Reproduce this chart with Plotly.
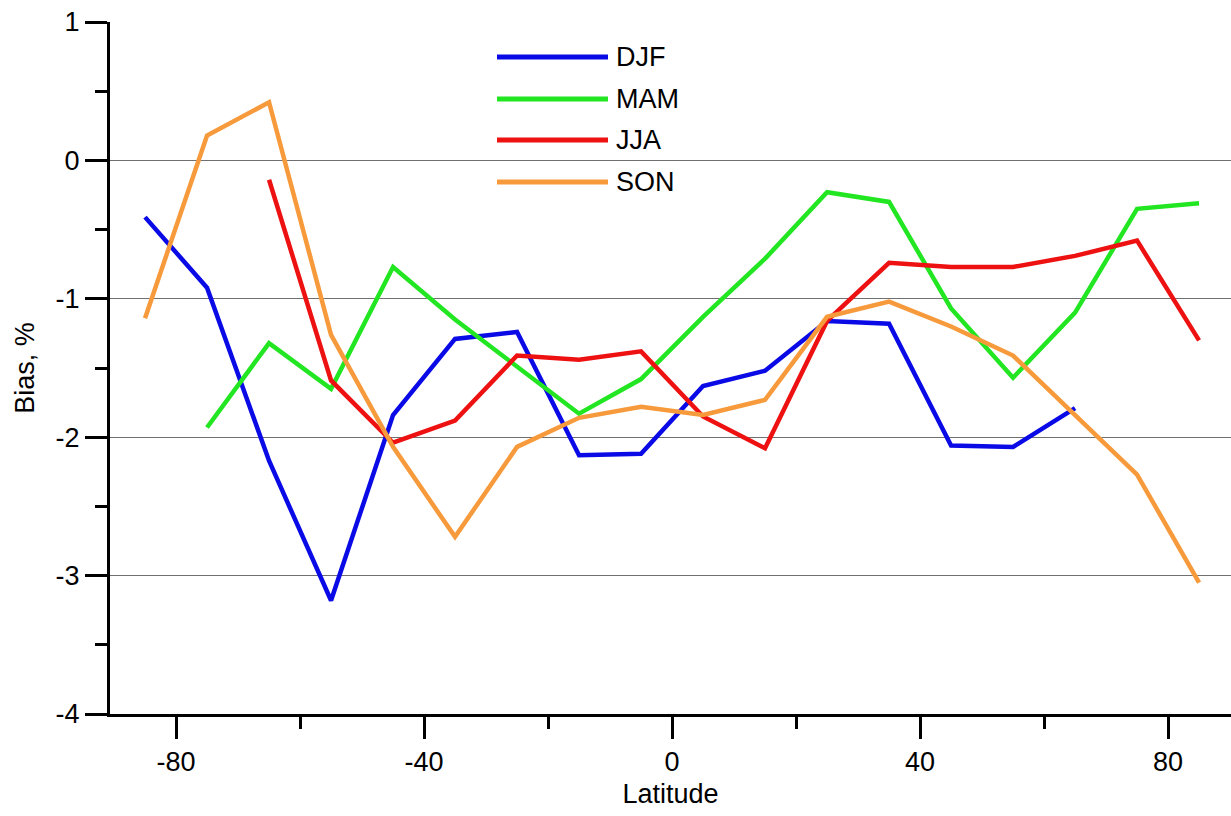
import plotly.graph_objects as go

lat = [-85, -75, -65, -55, -45, -35, -25, -15, -5, 5, 15, 25, 35, 45, 55, 65, 75, 85]

djf = [-0.41, -0.92, -2.17, -3.18, -1.84, -1.29, -1.24, -2.13, -2.12, -1.63, -1.52, -1.16, -1.18, -2.06, -2.07, -1.79, None, None]
mam = [None, -1.93, -1.32, -1.65, -0.77, -1.15, -1.49, -1.83, -1.58, -1.13, -0.71, -0.23, -0.30, -1.07, -1.57, -1.10, -0.35, -0.31]
jja = [None, None, -0.14, -1.59, -2.04, -1.88, -1.41, -1.44, -1.38, -1.85, -2.08, -1.16, -0.74, -0.77, -0.77, -0.69, -0.58, -1.30]
son = [-1.14, 0.18, 0.42, -1.26, -2.07, -2.72, -2.07, -1.86, -1.78, -1.84, -1.73, -1.13, -1.02, -1.20, -1.41, -1.84, -2.27, -3.05]

names = ["DJF", "MAM", "JJA", "SON"]
colors = ["#0a0ae6", "#22e622", "#ee1111", "#f79a3c"]
series = [djf, mam, jja, son]

x_ticks = [-80, -40, 0, 40, 80]
x_labels = ["-80", "-40", "0", "40", "80"]
y_ticks = [-4, -3, -2, -1, 0, 1]
y_labels = ["-4", "-3", "-2", "-1", "0", "1"]

FONT = "Liberation Sans, Arial, sans-serif"
FS = 27

fig = go.Figure()
for name, color, ys in zip(names, colors, series):
    fig.add_trace(go.Scatter(x=lat, y=ys, mode="lines", name=name,
                             line=dict(color=color, width=4.5), showlegend=False))

# manual legend (paper coordinates)
W, H = 1231, 816
L, R, T, B = 110, 0, 22, 102
pw, ph = W - L - R, H - T - B
leg_y = [57, 99, 140, 182]
for name, color, yy in zip(names, colors, leg_y):
    yp = 1 - (yy - T) / ph
    x0 = (497 - L) / pw
    x1 = (608 - L) / pw
    fig.add_shape(type="line", xref="paper", yref="paper", x0=x0, x1=x1, y0=yp, y1=yp,
                  line=dict(color=color, width=5))
    fig.add_annotation(xref="paper", yref="paper", x=(614 - L) / pw, y=yp, text=name,
                       showarrow=False, xanchor="left", yanchor="middle",
                       font=dict(size=FS, color="black", family=FONT))

fig.update_layout(
    width=W, height=H,
    margin=dict(l=L, r=R, t=T, b=B, autoexpand=False),
    plot_bgcolor="white", paper_bgcolor="white",
    font=dict(family=FONT, size=FS, color="black"),
    xaxis=dict(range=[-90.65, 90.15], tickvals=x_ticks, ticktext=x_labels, showgrid=False, zeroline=False,
               showline=True, linecolor="black", linewidth=3, automargin=False,
               ticks="outside", ticklen=22, tickwidth=3, tickcolor="black",
               minor=dict(tickvals=[-60, -20, 20, 60], ticks="outside", ticklen=12,
                          tickwidth=3, tickcolor="black"),
               title=dict(text="Latitude", font=dict(size=FS), standoff=8),
               tickfont=dict(size=FS)),
    yaxis=dict(range=[-4, 1], tickvals=y_ticks, ticktext=y_labels, showgrid=True, gridcolor="#707070", gridwidth=1,
               zeroline=False, showline=True, linecolor="black", linewidth=3, automargin=False,
               ticks="outside", ticklen=22, tickwidth=3, tickcolor="black",
               minor=dict(tickvals=[-3.5, -2.5, -1.5, -0.5, 0.5], ticks="outside", ticklen=12,
                          tickwidth=3, tickcolor="black"),
               title=dict(text="Bias, %", font=dict(size=FS), standoff=14),
               tickfont=dict(size=FS)),
)

fig.write_html("out.html", config={"displayModeBar": False},
               post_script="document.body.style.margin='0px';")
